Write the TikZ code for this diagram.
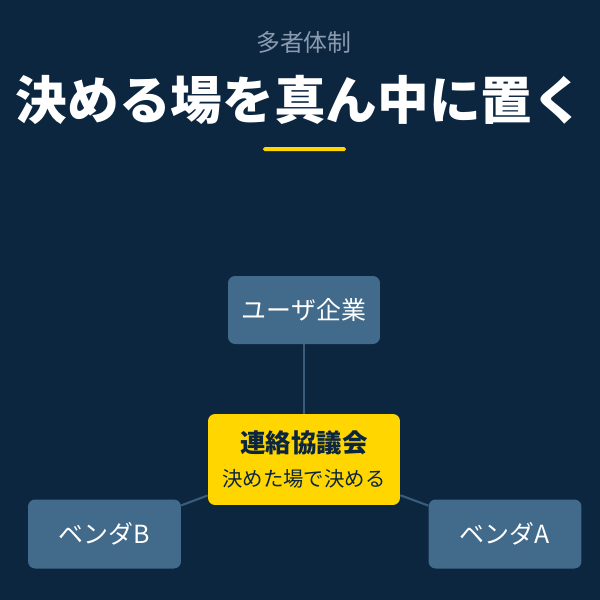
\documentclass[tikz,border=0pt]{standalone}
\usepackage{fontspec}
\setmainfont{Noto Sans CJK JP}
\definecolor{navy}{RGB}{12,38,64}
\definecolor{slate}{RGB}{66,106,138}
\definecolor{wire}{RGB}{58,92,122}
\definecolor{gold}{RGB}{255,214,0}
\definecolor{mist}{RGB}{138,155,175}
\begin{document}
\begin{tikzpicture}[x=0.02cm,y=-0.02cm,
  party/.style={fill=slate,rounded corners=4pt,text=white,inner sep=0pt,
    minimum width=3.06cm,minimum height=1.38cm,font=\fontsize{14.2pt}{16pt}\selectfont},
  hub/.style={fill=gold,rounded corners=4pt,text=navy,inner sep=0pt,align=center,
    minimum width=3.84cm,minimum height=1.82cm},
  link/.style={draw=wire,line width=1.2pt}]
  \fill[navy] (0,0) rectangle (600,600);
  \useasboundingbox (0,0) rectangle (600,600);
  \node[text=mist,font=\fontsize{13.6pt}{16pt}\selectfont] (kicker) at (304,42) {多者体制};
  \node[text=white,font=\fontsize{29.4pt}{34pt}\selectfont\bfseries] (title) at (300,100) {決める場を真ん中に置く};
  \fill[gold,rounded corners=1pt] (263,147) rectangle (346,151);
  \node[party,minimum width=3.04cm,minimum height=1.36cm] (user) at (304,310) {ユーザ企業};
  \node[party] (vendb) at (104.5,534) {ベンダB};
  \node[party] (venda) at (505,534) {ベンダA};
  \node[hub] (council) at (304,459.5) {{\fontsize{14.5pt}{17pt}\selectfont\bfseries 連絡協議会}\\[7.5pt]{\fontsize{11.6pt}{14pt}\selectfont 決めた場で決める}};
  \draw[link] (user) -- (council);
  \draw[link] (council) -- (vendb);
  \draw[link] (council) -- (venda);
\end{tikzpicture}
\end{document}
